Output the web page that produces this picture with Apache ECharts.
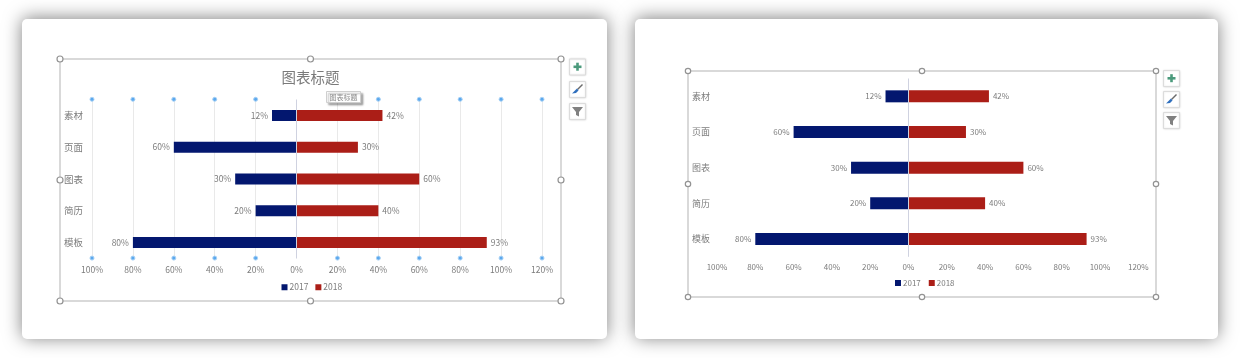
<!DOCTYPE html>
<html>
<head>
<meta charset="utf-8">
<style>html,body{margin:0;padding:0;background:#fff}#c{width:1240px;height:358px}</style>
<script src="https://cdn.jsdelivr.net/npm/echarts@6/dist/echarts.min.js"></script>
</head>
<body>
<div id="c"></div>
<script>
const categories = ['素材', '页面', '图表', '简历', '模板'];
const values2017 = [12, 60, 30, 20, 80];
const values2018 = [42, 30, 60, 40, 93];
const seriesNames = ['2017', '2018'];
const dotTicks = [-100, -80, -60, -40, -20, 20, 40, 60, 80, 100, 120];
const chartTitle = '图表标题';

const FONT = '"Noto Sans CJK SC","Noto Sans",sans-serif';
const NAVY = '#03176f', RED = '#ab1e17', TXT = '#7c7c7c';
const chart = echarts.init(document.getElementById('c'), null, {renderer: 'canvas'});
const pct = v => Math.abs(v) + '%';

function xAxis(i, grid, margin, fs) {
  return {type: 'value', gridIndex: i, min: -100, max: 120, interval: 20,
    axisLine: {show: false}, axisTick: {show: false},
    axisLabel: {formatter: pct, color: TXT, fontSize: fs, fontFamily: FONT, margin: margin},
    splitLine: {show: grid, lineStyle: {color: '#e9e9e9', width: 1}}};
}
function yAxis(i, margin, fs) {
  return {type: 'category', gridIndex: i, data: categories, inverse: true,
    axisLine: {show: false}, axisTick: {show: false},
    axisLabel: {color: TXT, fontSize: fs, fontFamily: FONT, align: 'left', margin: margin}};
}
function bars(i, name, vals, color, pos, bw, zeroLine, fs) {
  const s = {type: 'bar', name: name, xAxisIndex: i, yAxisIndex: i, stack: 'g' + i, data: vals,
    barWidth: bw, itemStyle: {color: color}, silent: true,
    label: {show: true, position: pos, distance: 4, formatter: p => pct(p.value), color: TXT, fontSize: fs, fontFamily: FONT}};
  if (zeroLine) s.markLine = {silent: true, symbol: 'none', z: 5, label: {show: false},
    lineStyle: {color: '#cfd2e0', width: 1, type: 'solid'}, data: [{xAxis: 0}], animation: false};
  return s;
}

/* ---- slide furniture (cards, selection frames, buttons) ---- */
const g = [];
function card(x, y, w, h) {
  g.push({type: 'rect', z: -20, shape: {x, y, width: w, height: h, r: 5},
    style: {fill: '#fff', shadowBlur: 18, shadowColor: 'rgba(0,0,0,.5)', shadowOffsetX: 0, shadowOffsetY: -1}});
}
function frame(x0, y0, x1, y1, r) {
  g.push({type: 'rect', z: -10, shape: {x: x0, y: y0, width: x1 - x0, height: y1 - y0},
    style: {fill: 'none', stroke: '#cdcdcd', lineWidth: 1.5}});
  const mx = (x0 + x1) / 2, my = (y0 + y1) / 2;
  [[x0,y0],[mx,y0],[x1,y0],[x0,my],[x1,my],[x0,y1],[mx,y1],[x1,y1]].forEach(p => {
    g.push({type: 'circle', z: 30, shape: {cx: p[0], cy: p[1], r: r},
      style: {fill: '#fff', stroke: '#939393', lineWidth: 1.2}});
  });
}
function btnBox(x, y, h) {
  g.push({type: 'rect', z: 30, shape: {x: x + .5, y: y + .5, width: 16, height: h},
    style: {fill: '#fff', stroke: '#dcdcdc', lineWidth: 1, shadowBlur: 2, shadowColor: 'rgba(0,0,0,.12)'}});
}
function buttons(x, y1, y2, y3) {
  const z = 31;
  btnBox(x, y1, 16); btnBox(x, y2, 16); btnBox(x, y3, 16);
  const cx = x + 8.5;
  g.push({type: 'rect', z, shape: {x: cx - 4, y: y1 + 7, width: 8, height: 2.6}, style: {fill: '#4b9a7c'}});
  g.push({type: 'rect', z, shape: {x: cx - 1.3, y: y1 + 4.2, width: 2.6, height: 8}, style: {fill: '#4b9a7c'}});
  g.push({type: 'line', z, shape: {x1: cx + 5, y1: y2 + 3.5, x2: cx, y2: y2 + 8.5}, style: {stroke: '#6a6a6a', lineWidth: 1.4}});
  g.push({type: 'polygon', z, shape: {points: [[cx - .5, y2 + 7.5], [cx + 1, y2 + 9.5], [cx - 1.5, y2 + 12], [cx - 5.5, y2 + 12.5]]}, style: {fill: '#2f6fbd'}});
  g.push({type: 'polygon', z, shape: {points: [[cx - 5.5, y3 + 4], [cx + 5.5, y3 + 4], [cx + 1.5, y3 + 9], [cx + 1.5, y3 + 13.5], [cx - 1.5, y3 + 12], [cx - 1.5, y3 + 9]]}, style: {fill: '#808080'}});
}
card(22, 19, 585, 320);
card(635, 19, 583, 320);
frame(60, 59, 561, 301, 3);
frame(688, 71, 1156, 297, 2.7);
buttons(569, 58.5, 81, 103);
buttons(1163, 70, 91, 112);
g.push({type: 'rect', z: 40, shape: {x: 326.5, y: 91.5, width: 34, height: 11},
  style: {fill: '#fff', stroke: '#cfcfcf', lineWidth: 1, shadowBlur: 2, shadowOffsetX: 2, shadowOffsetY: 2, shadowColor: 'rgba(0,0,0,.3)'}});
g.push({type: 'text', z: 41, x: 343.5, y: 97, style: {text: chartTitle, fill: '#8a8a8a', font: '7px ' + FONT, textAlign: 'center', textVerticalAlign: 'middle'}});

const dots = {
  type: 'custom', xAxisIndex: 0, yAxisIndex: 0, data: dotTicks.map(v => [v]), encode: {x: 0}, silent: true, clip: false, z: 4,
  renderItem(params, api) {
    const x = api.coord([api.value(0), 0])[0], cs = params.coordSys;
    const st = {fill: '#5ba8ee', stroke: '#a9d2f5', lineWidth: 1};
    return {type: 'group', children: [
      {type: 'circle', shape: {cx: x, cy: cs.y - .3, r: 2}, style: st},
      {type: 'circle', shape: {cx: x, cy: cs.y + cs.height - .3, r: 2}, style: st}
    ]};
  }
};

chart.setOption({
  animation: false,
  backgroundColor: '#fff',
  graphic: g,
  title: [{text: chartTitle, left: 310.5, top: 70, textAlign: 'center',
    textStyle: {color: '#7a7a7a', fontSize: 14.5, fontWeight: 'normal', fontFamily: FONT}, padding: 0}],
  legend: [
    {data: seriesNames, left: 281.5, top: 283, itemWidth: 6, itemHeight: 6, itemGap: 7, padding: 0, icon: 'rect', selectedMode: false,
      textStyle: {color: TXT, fontSize: 8.5, fontFamily: FONT, padding: [0, 0, 0, -3]}},
    {data: seriesNames, left: 895, top: 279, itemWidth: 6, itemHeight: 6, itemGap: 8, padding: 0, icon: 'rect', selectedMode: false,
      textStyle: {color: TXT, fontSize: 8, fontFamily: FONT, padding: [0, 0, 0, -3]}}
  ],
  grid: [
    {left: 92, top: 99.6, width: 450, height: 158.8},
    {left: 717, top: 78.5, width: 421.3, height: 178.3}
  ],
  xAxis: [xAxis(0, true, 7, 8.5), xAxis(1, false, 6, 8)],
  yAxis: [yAxis(0, 28, 9.5), yAxis(1, 25, 9)],
  series: [
    bars(0, seriesNames[0], values2017.map(v => -v), NAVY, 'left', 11, true, 8.5),
    bars(0, seriesNames[1], values2018, RED, 'right', 11, false, 8.5),
    bars(1, seriesNames[0], values2017.map(v => -v), NAVY, 'left', 12, true, 8),
    bars(1, seriesNames[1], values2018, RED, 'right', 12, false, 8),
    dots
  ]
});
</script>
</body>
</html>
